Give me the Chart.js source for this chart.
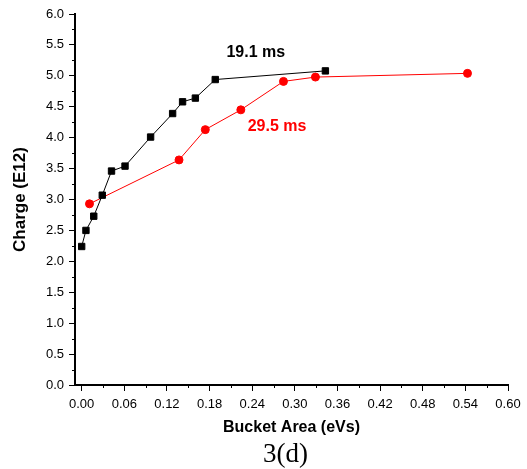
<!DOCTYPE html>
<html>
<head>
<meta charset="utf-8">
<script src="https://cdn.jsdelivr.net/npm/chart.js@4.4.0/dist/chart.umd.min.js"></script>
<style>
body { margin: 0; background: #fff; }
</style>
</head>
<body>
<canvas id="grafico" width="527" height="469"></canvas>
<script>
// Serie 19.1 ms (cuadros negros)
const area191 = [0.000, 0.006, 0.017, 0.029, 0.042, 0.061, 0.097, 0.128, 0.142, 0.160, 0.188, 0.343];
const carga191 = [2.24, 2.50, 2.73, 3.07, 3.46, 3.54, 4.01, 4.39, 4.58, 4.64, 4.94, 5.08];

// Serie 29.5 ms (circulos rojos)
const area295 = [0.011, 0.137, 0.174, 0.224, 0.284, 0.329, 0.543];
const carga295 = [2.93, 3.64, 4.13, 4.45, 4.91, 4.98, 5.04];

// Marcas de los ejes
const ticksX = [0, 0.06, 0.12, 0.18, 0.24, 0.30, 0.36, 0.42, 0.48, 0.54, 0.60];
const ticksXMenores = [0.03, 0.09, 0.15, 0.21, 0.27, 0.33, 0.39, 0.45, 0.51, 0.57];
const ticksY = [0, 0.5, 1, 1.5, 2, 2.5, 3, 3.5, 4, 4.5, 5, 5.5, 6];
const ticksYMenores = [0.25, 0.75, 1.25, 1.75, 2.25, 2.75, 3.25, 3.75, 4.25, 4.75, 5.25, 5.75];

const puntos = (xs, ys) => xs.map((x, i) => ({ x: x, y: ys[i] }));

// Marcas menores, etiquetas de las series y el rotulo 3(d)
const extras = {
    id: 'extras',
    afterDraw(chart) {
        const { ctx, chartArea, scales } = chart;
        ctx.save();
        ctx.strokeStyle = '#000';
        ctx.lineWidth = 1;
        ticksXMenores.forEach(v => {
            const px = Math.round(scales.x.getPixelForValue(v)) + 0.5;
            ctx.beginPath();
            ctx.moveTo(px, chartArea.bottom);
            ctx.lineTo(px, chartArea.bottom + 3);
            ctx.stroke();
        });
        ticksYMenores.forEach(v => {
            const py = Math.round(scales.y.getPixelForValue(v)) + 0.5;
            ctx.beginPath();
            ctx.moveTo(chartArea.left, py);
            ctx.lineTo(chartArea.left - 3, py);
            ctx.stroke();
        });

        ctx.font = 'bold 16px "Liberation Sans", Arial, sans-serif';
        ctx.textAlign = 'center';
        ctx.textBaseline = 'middle';
        ctx.fillStyle = '#000';
        ctx.fillText('19.1 ms', scales.x.getPixelForValue(0.245), scales.y.getPixelForValue(5.38));
        ctx.fillStyle = '#ff0000';
        ctx.fillText('29.5 ms', scales.x.getPixelForValue(0.275), scales.y.getPixelForValue(4.18));

        ctx.fillStyle = '#000';
        ctx.font = '27px "Liberation Serif", "Times New Roman", serif';
        ctx.fillText('3(d)', (chartArea.left + chartArea.right) / 2 - 6, 455);
        ctx.restore();
    }
};

new Chart(document.getElementById('grafico'), {
    type: 'scatter',
    data: {
        datasets: [
            {
                label: '19.1 ms',
                data: puntos(area191, carga191),
                showLine: true,
                borderColor: '#000',
                backgroundColor: '#000',
                borderWidth: 1,
                pointStyle: 'rect',
                pointRadius: 4.5,
                pointBorderWidth: 1
            },
            {
                label: '29.5 ms',
                data: puntos(area295, carga295),
                showLine: true,
                borderColor: '#ff0000',
                backgroundColor: '#ff0000',
                borderWidth: 1,
                pointStyle: 'circle',
                pointRadius: 4,
                pointBorderWidth: 1
            }
        ]
    },
    options: {
        responsive: false,
        animation: false,
        layout: {
            padding: { left: 0, right: 19, top: 14, bottom: 32 }
        },
        scales: {
            x: {
                type: 'linear',
                min: -0.0094,
                max: 0.6,
                afterFit: s => { s.height = 52; },
                afterBuildTicks: s => { s.ticks = ticksX.map(v => ({ value: v })); },
                grid: { display: true, drawOnChartArea: false, drawTicks: true, tickLength: 6, tickColor: '#000' },
                border: { display: true, color: '#000', width: 2 },
                ticks: {
                    color: '#000',
                    padding: 6,
                    maxRotation: 0,
                    autoSkip: false,
                    font: { family: '"Liberation Sans", Arial, sans-serif', size: 13 },
                    callback: v => v.toFixed(2)
                },
                title: {
                    display: true,
                    text: 'Bucket Area (eVs)',
                    color: '#000',
                    padding: { top: 0, bottom: 0 },
                    font: { family: '"Liberation Sans", Arial, sans-serif', size: 16, weight: 'bold' }
                }
            },
            y: {
                type: 'linear',
                min: 0,
                max: 6,
                afterFit: s => { s.width = 75; },
                afterBuildTicks: s => { s.ticks = ticksY.map(v => ({ value: v })); },
                grid: { display: true, drawOnChartArea: false, drawTicks: true, tickLength: 6, tickColor: '#000' },
                border: { display: true, color: '#000', width: 2 },
                ticks: {
                    color: '#000',
                    padding: 5,
                    autoSkip: false,
                    font: { family: '"Liberation Sans", Arial, sans-serif', size: 13 },
                    callback: v => v.toFixed(1)
                },
                title: {
                    display: true,
                    text: 'Charge (E12)',
                    color: '#000',
                    padding: { top: 10, bottom: 0 },
                    font: { family: '"Liberation Sans", Arial, sans-serif', size: 17, weight: 'bold' }
                }
            }
        },
        plugins: {
            legend: { display: false },
            tooltip: { enabled: false }
        }
    },
    plugins: [extras]
});
</script>
</body>
</html>
